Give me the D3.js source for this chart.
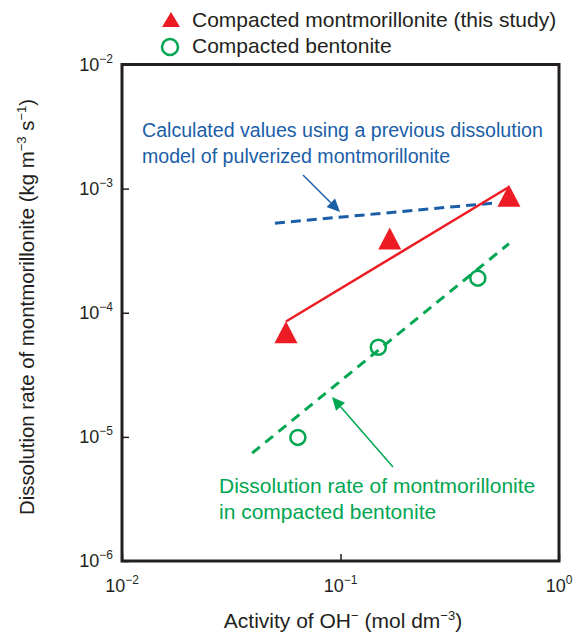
<!DOCTYPE html>
<html>
<head>
<meta charset="utf-8">
<script src="https://cdn.jsdelivr.net/npm/d3@7"></script>
<style>
  body { margin: 0; background: #fff; }
  text { font-family: "Liberation Sans", Arial, sans-serif; }
</style>
</head>
<body>
<svg id="chart" width="583" height="635"></svg>
<script>
// data
var xTicks = [0.01, 0.1, 1];
var xTickExp = ["\u22122", "\u22121", "0"];
var yTicks = [1e-2, 1e-3, 1e-4, 1e-5, 1e-6];
var yTickExp = ["\u22122", "\u22123", "\u22124", "\u22125", "\u22126"];

var montX = [0.0563, 0.168, 0.59];
var montY = [6.5e-5, 3.7e-4, 8.2e-4];

var bentX = [0.0638, 0.149, 0.425];
var bentY = [9.9e-6, 5.27e-5, 1.9e-4];

var montFitX = [0.0563, 0.59];
var montFitY = [8.5e-5, 1.03e-3];

var bentFitX = [0.0394, 0.59];
var bentFitY = [7.4e-6, 3.6e-4];

var modelX = [0.0501, 0.499];
var modelY = [5.27e-4, 7.64e-4];

var red = "#ed1c24", green = "#00a651", blue = "#1a5ea8", ink = "#231f20";

var svg = d3.select("#chart");

var x = d3.scaleLog().domain([0.01, 1]).range([122, 559]);
var y = d3.scaleLog().domain([1e-6, 1e-2]).range([561, 64.5]);

// frame
svg.append("rect")
    .attr("x", 122)
    .attr("y", 64.5)
    .attr("width", 437)
    .attr("height", 496.5)
    .attr("fill", "none")
    .attr("stroke", ink)
    .attr("stroke-width", 3);

// axes, ticks pointing in
var xAxis = svg.append("g")
    .attr("transform", "translate(0,561)")
    .call(d3.axisBottom(x).tickValues(xTicks).tickSize(-7).tickFormat(""));
var yAxis = svg.append("g")
    .attr("transform", "translate(122,0)")
    .call(d3.axisLeft(y).tickValues(yTicks).tickSize(-7).tickFormat(""));
svg.selectAll(".domain").remove();
svg.selectAll(".tick line").attr("stroke", ink).attr("stroke-width", 1.5);

// tick labels 10^n
xTicks.forEach(function (v, i) {
    var t = svg.append("text")
        .attr("x", x(v))
        .attr("y", 592)
        .attr("text-anchor", "middle")
        .attr("font-size", 18)
        .attr("fill", ink);
    t.append("tspan").text("10");
    t.append("tspan").attr("dy", -8).attr("font-size", 12).text(xTickExp[i]);
});
yTicks.forEach(function (v, i) {
    var t = svg.append("text")
        .attr("x", 113)
        .attr("y", y(v) + 6)
        .attr("text-anchor", "end")
        .attr("font-size", 18)
        .attr("fill", ink);
    t.append("tspan").text("10");
    t.append("tspan").attr("dy", -8).attr("font-size", 12).text(yTickExp[i]);
});

// axis titles
var xt = svg.append("text")
    .attr("x", 343)
    .attr("y", 628)
    .attr("text-anchor", "middle")
    .attr("font-size", 21)
    .attr("fill", ink);
xt.append("tspan").text("Activity of OH");
xt.append("tspan").attr("dy", -8).attr("font-size", 13).text("\u2212");
xt.append("tspan").attr("dy", 8).text(" (mol dm");
xt.append("tspan").attr("dy", -8).attr("font-size", 13).text("\u22123");
xt.append("tspan").attr("dy", 8).text(")");

var yt = svg.append("text")
    .attr("transform", "translate(34,307) rotate(-90)")
    .attr("text-anchor", "middle")
    .attr("font-size", 20.4)
    .attr("fill", ink);
yt.append("tspan").text("Dissolution rate of montmorillonite (kg m");
yt.append("tspan").attr("dy", -8).attr("font-size", 13).text("\u22123");
yt.append("tspan").attr("dy", 8).text(" s");
yt.append("tspan").attr("dy", -8).attr("font-size", 13).text("\u22121");
yt.append("tspan").attr("dy", 8).text(")");

// lines
var line = d3.line()
    .x(function (d) { return x(d[0]); })
    .y(function (d) { return y(d[1]); });

svg.append("path")
    .attr("d", line(d3.zip(modelX, modelY)))
    .attr("fill", "none")
    .attr("stroke", blue)
    .attr("stroke-width", 3)
    .attr("stroke-dasharray", "10,6");

svg.append("path")
    .attr("d", line(d3.zip(bentFitX, bentFitY)))
    .attr("fill", "none")
    .attr("stroke", green)
    .attr("stroke-width", 3)
    .attr("stroke-dasharray", "10,7");

svg.append("path")
    .attr("d", line(d3.zip(montFitX, montFitY)))
    .attr("fill", "none")
    .attr("stroke", red)
    .attr("stroke-width", 2.5);

// markers
function tri(cx, cy, w, h) {
    return "M" + cx + "," + (cy - h * 2 / 3) +
        "L" + (cx + w / 2) + "," + (cy + h / 3) +
        "L" + (cx - w / 2) + "," + (cy + h / 3) + "Z";
}

svg.selectAll(".mont")
    .data(d3.zip(montX, montY))
    .enter()
    .append("path")
    .attr("class", "mont")
    .attr("d", function (d) { return tri(x(d[0]), y(d[1]), 23, 22); })
    .attr("fill", red);

svg.selectAll(".bent")
    .data(d3.zip(bentX, bentY))
    .enter()
    .append("circle")
    .attr("class", "bent")
    .attr("cx", function (d) { return x(d[0]); })
    .attr("cy", function (d) { return y(d[1]); })
    .attr("r", 7.5)
    .attr("fill", "none")
    .attr("stroke", green)
    .attr("stroke-width", 2.5);

// arrows
function arrow(x1, y1, x2, y2, color) {
    var a = Math.atan2(y2 - y1, x2 - x1), L = 13, W = 6;
    var bx = x2 - L * Math.cos(a), by = y2 - L * Math.sin(a);
    svg.append("line")
        .attr("x1", x1).attr("y1", y1)
        .attr("x2", bx).attr("y2", by)
        .attr("stroke", color)
        .attr("stroke-width", 1.5);
    svg.append("path")
        .attr("d", "M" + x2 + "," + y2 +
            "L" + (bx + W * Math.sin(a)) + "," + (by - W * Math.cos(a)) +
            "L" + (bx - W * Math.sin(a)) + "," + (by + W * Math.cos(a)) + "Z")
        .attr("fill", color);
}
arrow(303, 175, 340, 212, blue);
arrow(393, 467, 332, 397, green);

// annotations
svg.append("text")
    .attr("x", 142).attr("y", 137)
    .attr("font-size", 19.6).attr("fill", blue)
    .text("Calculated values using a previous dissolution");
svg.append("text")
    .attr("x", 142).attr("y", 163)
    .attr("font-size", 19.6).attr("fill", blue)
    .text("model of pulverized montmorillonite");

svg.append("text")
    .attr("x", 219).attr("y", 493)
    .attr("font-size", 21).attr("fill", green)
    .text("Dissolution rate of montmorillonite");
svg.append("text")
    .attr("x", 219).attr("y", 519)
    .attr("font-size", 21).attr("fill", green)
    .text("in compacted bentonite");

// legend
svg.append("path")
    .attr("d", tri(171, 22, 18, 15))
    .attr("fill", red);
svg.append("text")
    .attr("x", 192).attr("y", 27)
    .attr("font-size", 21).attr("fill", ink)
    .text("Compacted montmorillonite (this study)");
svg.append("circle")
    .attr("cx", 170).attr("cy", 47).attr("r", 8)
    .attr("fill", "none")
    .attr("stroke", green)
    .attr("stroke-width", 2.5);
svg.append("text")
    .attr("x", 192).attr("y", 53)
    .attr("font-size", 21).attr("fill", ink)
    .text("Compacted bentonite");
</script>
</body>
</html>
